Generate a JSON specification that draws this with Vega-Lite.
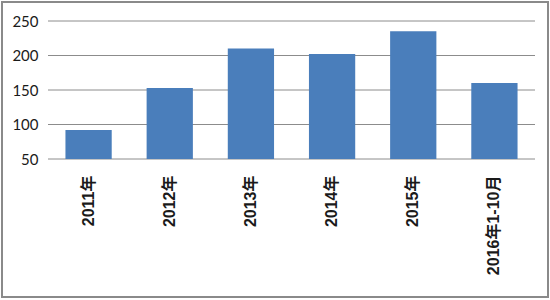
{
  "$schema": "https://vega.github.io/schema/vega-lite/v6.json",
  "autosize": {"type": "none"},
  "width": 546,
  "height": 295,
  "padding": {"left": 2, "top": 2, "right": 2, "bottom": 3},
  "background": "#ffffff",
  "config": {
    "view": {"stroke": "#8a8a8a", "strokeWidth": 2, "fill": "#ffffff"}
  },
  "datasets": {
    "bars": [
      {"period": "2011年", "value": 92},
      {"period": "2012年", "value": 153},
      {"period": "2013年", "value": 210},
      {"period": "2014年", "value": 202},
      {"period": "2015年", "value": 235},
      {"period": "2016年1-10月", "value": 160}
    ],
    "grid": [
      {"tick": 50}, {"tick": 100}, {"tick": 150}, {"tick": 200}, {"tick": 250}
    ]
  },
  "layer": [
    {
      "data": {"name": "grid"},
      "mark": {"type": "rule", "color": "#8c8c8c", "strokeWidth": 1},
      "encoding": {
        "x": {"datum": 0, "type": "quantitative", "scale": {"domain": [0, 1], "range": [46, 533]}, "axis": null},
        "x2": {"datum": 1},
        "y": {
          "field": "tick", "type": "quantitative",
          "scale": {"domain": [50, 250], "range": [157, 19], "zero": false, "nice": false},
          "axis": {
            "title": null, "values": [50, 100, 150, 200, 250], "grid": false, "domain": false, "ticks": false,
            "offset": -46, "labelPadding": 10, "labelFont": "Liberation Sans Narrow, Lato, sans-serif",
            "labelFontSize": 15, "labelColor": "#1a1a1a"
          }
        }
      }
    },
    {
      "data": {"name": "bars"},
      "mark": {"type": "bar", "color": "#4a7ebb"},
      "encoding": {
        "x": {
          "field": "period", "type": "nominal", "sort": null,
          "scale": {"range": [46, 533], "paddingInner": 0.43, "paddingOuter": 0.215},
          "axis": {
            "title": null, "labelAngle": -90, "domain": false, "ticks": false, "offset": -138,
            "labelPadding": 16, "labelFont": "Liberation Sans, Noto Sans CJK SC, sans-serif",
            "labelFontSize": 16, "labelFontWeight": "bold", "labelColor": "#1a1a1a"
          }
        },
        "y": {"field": "value", "type": "quantitative"},
        "y2": {"datum": 50}
      }
    }
  ],
  "resolve": {"scale": {"x": "independent"}, "axis": {"x": "independent"}}
}
